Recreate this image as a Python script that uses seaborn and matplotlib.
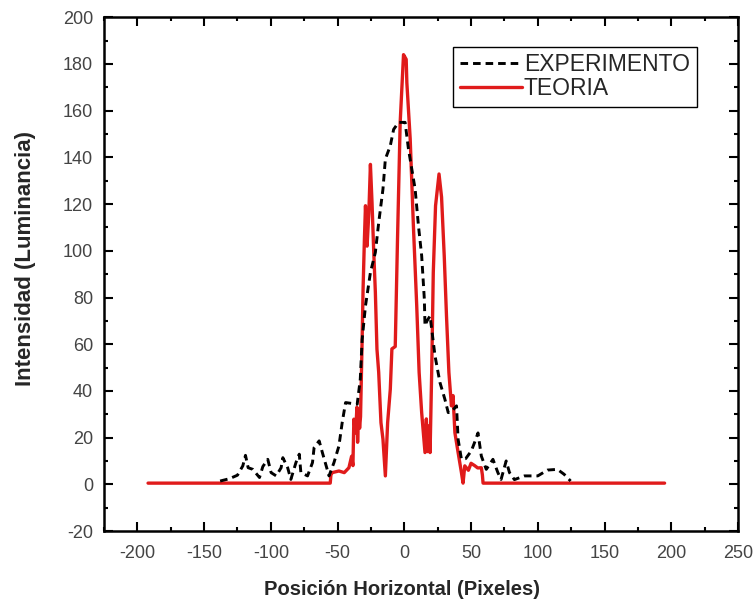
import matplotlib
matplotlib.use("Agg")
import matplotlib.pyplot as plt
from matplotlib.ticker import MultipleLocator
import seaborn as sns

# ---- data ----
exp_x = [-138, -131, -125, -121, -119, -117, -113.5, -108.5, -106, -102.3, -99.8, -96,
         -92.3, -91, -87.4, -85, -81.2, -78.7, -77.5, -72.5, -68.8, -67.6, -63.8, -61.4,
         -56.4, -52.7, -49, -46.5, -44, -39, -35.3, -33, -31.6, -29.1, -25.4, -21.7,
         -19.2, -16, -14.2, -10.5, -8, -4.3, 0.6, 3.1, 8.1, 10.6, 13, 15, 15.5, 17,
         19.3, 23, 26.7, 30.4, 32.9, 35.3, 39.1, 40.3, 42.8, 46, 50.2, 52.7, 55.2,
         57.7, 61.4, 66.4, 70.1, 72.5, 76.3, 78.8, 82.5, 90, 100, 107.3, 114.7, 119.7,
         124.6]
exp_y = [1.4, 2.4, 3.9, 7.9, 12.4, 7.1, 6.4, 2.9, 7.6, 10.7, 5, 3.6,
         7.1, 11.4, 7.1, 2.1, 9.3, 12.9, 5, 3.6, 9.3, 15.7, 18.6, 13.6,
         3.6, 9.3, 16.4, 26.6, 35, 34.6, 34.3, 45, 62, 76.4, 90.7, 99.3,
         112, 126.4, 139.3, 145, 152, 155, 155, 143.6, 126.4, 110.7, 97.9, 79.3, 67.9, 70,
         72.1, 55, 43.6, 36.4, 30.7, 31, 33.6, 19.3, 10.7, 11, 14.3, 18, 22,
         12.1, 6.4, 10.7, 5, 2.1, 10, 5, 2, 3.6, 3.6, 6.1, 6.4, 4.3,
         1.4]

teo_x = [-192, -55.5, -55, -54, -49, -45, -41.5, -39.5, -38.5, -37.8, -36.5, -35.5,
         -35, -34.2, -33.5, -32.8, -31.6, -30.9, -29.9, -29.1, -28.5, -27.9, -26.6,
         -25.4, -24.2, -22.9, -21.7, -20.5, -19.2, -17.5, -16, -14.2, -12.5, -10.5,
         -9.3, -6.8, -5.1, -3.1, -0.6, 0.4, 1.4, 1.9, 4.4, 6.8, 9.3, 11.1, 13, 15.5,
         16.5, 17.5, 18.3, 19.3, 20.5, 21.7, 23.4, 26, 27.9, 29.9, 31.6, 33.4, 35.3,
         36.5, 37.9, 40.3, 42.8, 44, 45.3, 48, 50, 52.7, 55, 57.7, 58.5, 59, 195]
teo_y = [0.5, 0.5, 4, 5, 5.7, 5, 7.1, 12, 8, 27.9, 22, 33,
         18, 32, 24, 29, 62, 83.6, 105, 119.3, 110, 102, 116,
         137, 120.7, 99.3, 82.3, 57.9, 48, 26.4, 19.3, 3.6, 26.4, 40.7,
         58, 59, 105, 155, 184, 183, 182, 172, 148, 110.7, 76.4, 47.9, 30.7, 13.6,
         28, 14, 25, 13.6, 47.9, 90.7, 119.3, 132.9, 123, 97.9, 72.1, 47.9, 33.6,
         38, 22.1, 13.6, 5, 0.5, 7.9, 6, 9, 8, 7, 7.1, 4, 0.5, 0.5]

series_labels = ["EXPERIMENTO", "TEORIA"]
x_label = "Posición Horizontal (Pixeles)"
y_label = "Intensidad (Luminancia)"

sns.set_style("ticks")
plt.rcParams["font.family"] = ["Liberation Sans", "DejaVu Sans"]
plt.rcParams["axes.unicode_minus"] = False

fig = plt.figure(figsize=(7.55, 6.03), dpi=100)
ax = fig.add_axes([104 / 755, 1 - 531 / 603, (738 - 104) / 755, (531 - 17.3) / 603])

sns.lineplot(x=teo_x, y=teo_y, ax=ax, color="#e01b1b", linewidth=2.4,
             estimator=None, sort=False, label=series_labels[1], zorder=2)
sns.lineplot(x=exp_x, y=exp_y, ax=ax, color="black", linewidth=2.1,
             estimator=None, sort=False, label=series_labels[0], zorder=3)
ax.lines[1].set_dashes((2.6, 1.7))

ax.set_xlim(-225, 250)
ax.set_ylim(-20, 200)
ax.xaxis.set_major_locator(MultipleLocator(50))
ax.xaxis.set_minor_locator(MultipleLocator(25))
ax.yaxis.set_major_locator(MultipleLocator(20))
ax.yaxis.set_minor_locator(MultipleLocator(10))
ax.tick_params(which="both", direction="in", top=True, right=True, width=1.5,
               colors="black", labelcolor="#444444", labelsize=13)
ax.tick_params(which="major", length=6.5)
ax.tick_params(which="minor", length=3.2)
ax.tick_params(axis="y", pad=8)
ax.tick_params(axis="x", pad=10)
for s in ax.spines.values():
    s.set_linewidth(1.8)
    s.set_color("black")
    s.set_visible(True)

ax.set_xlabel(x_label, fontsize=14.5, fontweight="bold")
ax.set_ylabel(y_label, fontsize=16, fontweight="bold")
ax.xaxis.set_label_coords(0.470, -0.095)
ax.yaxis.set_label_coords(-0.108, 0.531)

h, l = ax.get_legend_handles_labels()
leg = ax.legend([h[1], h[0]], [l[1], l[0]], loc="upper right",
                bbox_to_anchor=(0.935, 0.943), fontsize=16.5, frameon=True,
                fancybox=False, edgecolor="black", framealpha=1,
                handlelength=2.7, handletextpad=0.1, borderpad=0.3,
                labelspacing=0.02, borderaxespad=0)
leg.get_frame().set_linewidth(1.0)

fig.savefig("out.png", dpi=100)
